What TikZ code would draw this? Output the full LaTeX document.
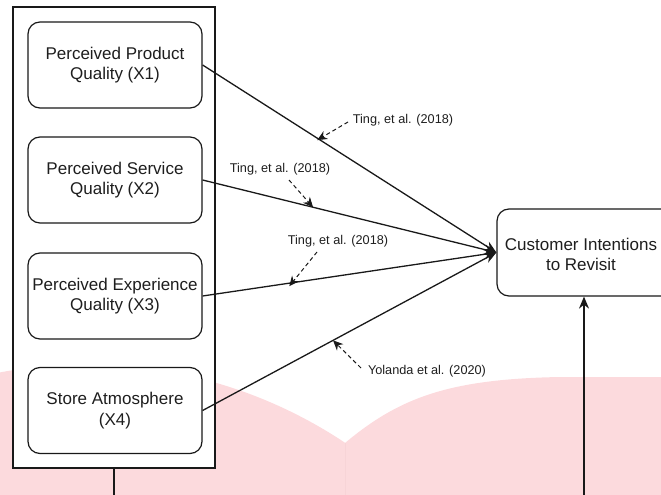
\documentclass[tikz,border=0pt]{standalone}
\usepackage{fontspec}
\setmainfont{Liberation Sans}
\usetikzlibrary{arrows.meta}
\definecolor{pinkbg}{RGB}{252,218,221}
\definecolor{seam}{RGB}{247,212,215}
\definecolor{ink}{RGB}{25,25,25}
\definecolor{txt}{RGB}{30,30,30}
\tikzset{
  varbox/.style={draw=ink, line width=1.2pt, fill=white, rounded corners=12pt,
    minimum width=174pt, minimum height=86pt, inner sep=0pt, align=center,
    text=txt, font=\fontsize{17}{20.5}\selectfont},
  boxtext/.style={inner sep=0pt, align=center, text=txt, font=\fontsize{17}{20.5}\selectfont},
  outerbox/.style={draw=ink, line width=1.2pt, fill=white},
  mainarr/.style={draw=ink, line width=1.3pt, -{Stealth[length=12pt,width=10pt]}},
  dasharr/.style={draw=ink, line width=1pt, dash pattern=on 4pt off 3pt, -{Stealth[length=10pt,width=9pt]}},
  cite/.style={text=txt, inner sep=0pt, font=\fontsize{12.7}{15}\selectfont},
}
\begin{document}
\begin{tikzpicture}[x=1pt,y=-1pt]
\useasboundingbox (0,0) rectangle (661,495);
\clip (0,0) rectangle (661,495);
% pink background
\begin{scope}
  \clip (0,0) rectangle (345,495);
  \fill[pinkbg] (86,832) circle[radius=467.5];
\end{scope}
\fill[pinkbg] (345,495) -- (345,443) .. controls (400,397) and (450,379) .. (560,377) -- (661,377) -- (661,495) -- cycle;
\draw[seam, line width=0.8pt] (345,443) -- (345,495);
% outer container
\node[outerbox, minimum width=202pt, minimum height=461pt, inner sep=0pt] (outer) at (114,237.5) {};
\coordinate (outbot) at (114,495);
\draw[ink, line width=1.2pt] (outer.south) -- (outbot);
% variable boxes
\node[varbox] (b1) at (115,65) {Perceived Product\\Quality (X1)};
\node[varbox] (b2) at (115,180) {Perceived Service\\Quality (X2)};
\node[varbox] (b3) at (115,296) {Perceived Experience\\Quality (X3)};
\node[varbox] (b4) at (115,410.5) {Store Atmosphere\\(X4)};
% dependent box (runs past the right edge)
\node[varbox, minimum width=184pt, minimum height=87pt] (cust) at (589,252.5) {};
\node[boxtext] (custtext) at (581,254.5) {Customer Intentions\\to Revisit};
% main arrows
\draw[mainarr] (b1.east) -- (cust.west) coordinate[pos=0.39] (p1);
\draw[mainarr] (b2.east) -- (cust.west);
\draw[mainarr] (b3.east) -- (cust.west);
\draw[mainarr] (b4.east) -- (cust.west);
\path (b2.east) -- (cust.west) coordinate[pos=0.376] (p2);
\path (b3.east) -- (cust.west) coordinate[pos=0.295] (p3);
\path (b4.east) -- (cust.west) coordinate[pos=0.444] (p4);
\coordinate (bottom) at (584,495);
\draw[mainarr] (bottom) -- (cust.south -| bottom);
% citations
\node[cite] (t1) at (403,120) {Ting, et al. (2018)};
\node[cite] (t2) at (280,169) {Ting, et al. (2018)};
\node[cite] (t3) at (338,241) {Ting, et al. (2018)};
\node[cite] (t4) at (427,371) {Yolanda et al. (2020)};
\coordinate (s1) at (348,122);
\coordinate (s2) at (289,180);
\coordinate (s3) at (317,252);
\coordinate (s4) at (361,368);
\draw[dasharr] (s1) -- ([yshift=-2pt]p1);
\draw[dasharr] (s2) -- (p2);
\draw[dasharr] (s3) -- ([yshift=-3pt]p3);
\draw[dasharr] (s4) -- (p4);
\end{tikzpicture}
\end{document}
